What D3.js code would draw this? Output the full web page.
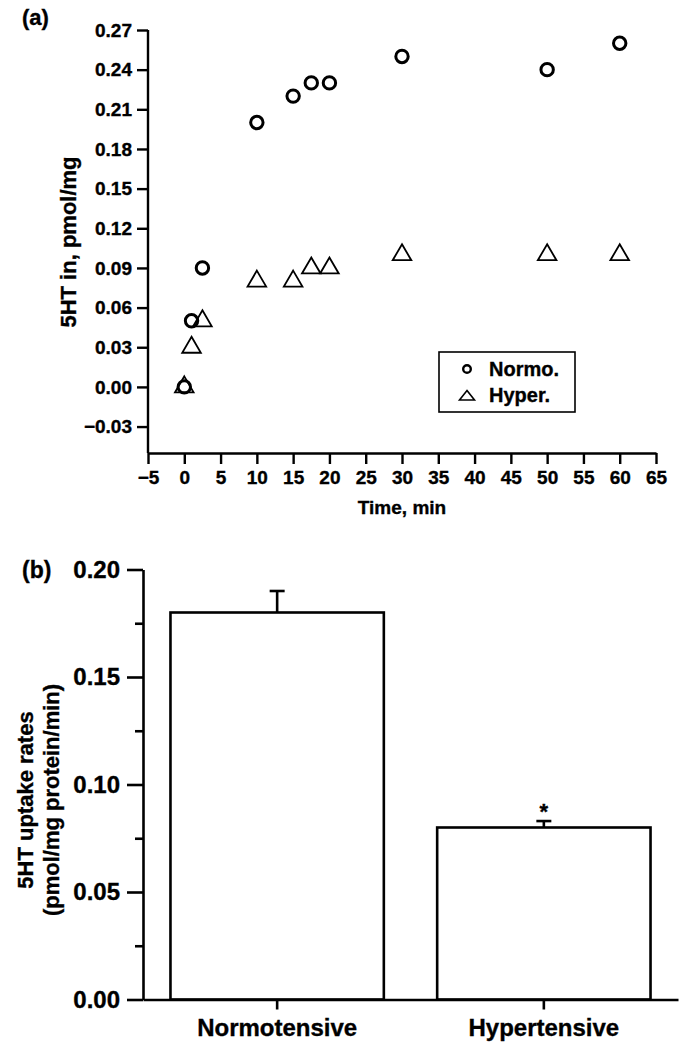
<!DOCTYPE html>
<html>
<head>
<meta charset="utf-8">
<script src="https://cdn.jsdelivr.net/npm/d3@7"></script>
<style>
  body { margin: 0; background: #fff; }
  svg text { font-family: "Liberation Sans", Arial, Helvetica, sans-serif; font-weight: bold; fill: #000; stroke: #000; stroke-width: 0.35px; }
</style>
</head>
<body>
<svg id="fig" width="685" height="1050"></svg>
<script>
'use strict'

// panel (a) - time course
const times = [0, 1, 2.5, 10, 15, 17.5, 20, 30, 50, 60];
const normoVals = [0, 0.05, 0.09, 0.20, 0.22, 0.23, 0.23, 0.25, 0.24, 0.26];
const hyperVals = [0, 0.03, 0.05, 0.08, 0.08, 0.09, 0.09, 0.10, 0.10, 0.10];
const xTicksA = d3.range(-5, 66, 5);
const yTicksA = [-0.03, 0, 0.03, 0.06, 0.09, 0.12, 0.15, 0.18, 0.21, 0.24, 0.27];
const legendLabels = ['Normo.', 'Hyper.'];

// panel (b) - uptake rates
const groups = ['Normotensive', 'Hypertensive'];
const rates = [0.18, 0.08];
const rateErr = [0.01, 0.003];
const signif = ['', '*'];
const yTicksB = [0, 0.05, 0.10, 0.15, 0.20];
const yMinorB = [0.025, 0.075, 0.125, 0.175];

window.onload = function() {
  const svg = d3.select('#fig');

  // ---------------- (a)
  const xA = d3.scaleLinear().domain([-5, 65]).range([148, 656]),
        yA = d3.scaleLinear().domain([-0.05, 0.27]).range([453, 30]);

  const gA = svg.append('g');

  gA.append('g')
    .attr('transform', 'translate(0,453)')
    .call(d3.axisBottom(xA).tickValues(xTicksA).tickSize(11).tickSizeOuter(0).tickPadding(7)
      .tickFormat(d3.format('d')))
    .call(g => g.selectAll('text').style('font-size', '19px'));

  const yAxA = gA.append('g')
    .attr('transform', 'translate(148,0)')
    .call(d3.axisLeft(yA).tickValues(yTicksA).tickSize(11).tickSizeOuter(0).tickPadding(5)
      .tickFormat(d3.format('.2f')))
    .call(g => g.selectAll('text').style('font-size', '19px'));

  gA.selectAll('.domain').attr('stroke-width', 2.4);
  gA.selectAll('.tick line').attr('stroke-width', 2.4);
  // y axis line only runs from the top tick down
  yAxA.select('.domain').attr('d', 'M0,' + yA(0.27) + 'V' + yA(-0.05));

  gA.append('text')
    .attr('x', 402).attr('y', 514)
    .attr('text-anchor', 'middle')
    .style('font-size', '19px')
    .text('Time, min');

  gA.append('text')
    .attr('transform', 'translate(76,242) rotate(-90)')
    .attr('text-anchor', 'middle')
    .style('font-size', '22px')
    .text('5HT in, pmol/mg');

  gA.append('text')
    .attr('x', 22).attr('y', 25)
    .style('font-size', '22px')
    .text('(a)');

  const tri = function(hw, up, down) {
    return 'M0,' + (-up) + 'L' + hw + ',' + down + 'L' + (-hw) + ',' + down + 'Z';
  }

  gA.append('g').selectAll('path')
    .data(times.map((t, i) => [t, hyperVals[i]]))
    .enter().append('path')
    .attr('transform', d => 'translate(' + xA(d[0]) + ',' + yA(d[1]) + ')')
    .attr('d', tri(9.3, 10.5, 5.5))
    .attr('fill', 'none')
    .attr('stroke', '#000')
    .attr('stroke-width', 1.8);

  gA.append('g').selectAll('circle')
    .data(times.map((t, i) => [t, normoVals[i]]))
    .enter().append('circle')
    .attr('cx', d => xA(d[0]))
    .attr('cy', d => yA(d[1]))
    .attr('r', 6.2)
    .attr('fill', 'none')
    .attr('stroke', '#000')
    .attr('stroke-width', 3);

  // legend
  const leg = gA.append('g');
  leg.append('rect')
    .attr('x', 439).attr('y', 352).attr('width', 136).attr('height', 60)
    .attr('fill', '#fff').attr('stroke', '#000').attr('stroke-width', 1.6);
  leg.append('circle')
    .attr('cx', 467).attr('cy', 369).attr('r', 3.8)
    .attr('fill', 'none').attr('stroke', '#000').attr('stroke-width', 2.4);
  leg.append('path')
    .attr('transform', 'translate(467,396)')
    .attr('d', tri(7.5, 5.5, 4))
    .attr('fill', 'none').attr('stroke', '#000').attr('stroke-width', 1.6);
  leg.selectAll('text.lab')
    .data(legendLabels)
    .enter().append('text')
    .attr('class', 'lab')
    .attr('x', 489)
    .attr('y', (d, i) => 369 + i * 26)
    .attr('dy', '0.36em')
    .style('font-size', '20px')
    .text(d => d);

  // ---------------- (b)
  const xB = d3.scaleBand().domain(groups).range([143, 678]).paddingInner(0.2).paddingOuter(0.103),
        yB = d3.scaleLinear().domain([0, 0.20]).range([999.5, 569.5]);

  const gB = svg.append('g');

  // bars
  gB.append('g').selectAll('rect')
    .data(groups)
    .enter().append('rect')
    .attr('x', d => xB(d))
    .attr('y', (d, i) => yB(rates[i]))
    .attr('width', xB.bandwidth())
    .attr('height', (d, i) => yB(0) - yB(rates[i]))
    .attr('fill', '#fff')
    .attr('stroke', '#000')
    .attr('stroke-width', 2.6);

  // error bars (upper only) + significance mark
  const eb = gB.append('g').selectAll('g')
    .data(groups)
    .enter().append('g')
    .attr('transform', d => 'translate(' + (xB(d) + xB.bandwidth() / 2) + ',0)');
  eb.append('line')
    .attr('y1', (d, i) => yB(rates[i]))
    .attr('y2', (d, i) => yB(rates[i] + rateErr[i]))
    .attr('stroke', '#000').attr('stroke-width', 2.6);
  eb.append('line')
    .attr('x1', -7.5).attr('x2', 7.5)
    .attr('y1', (d, i) => yB(rates[i] + rateErr[i]))
    .attr('y2', (d, i) => yB(rates[i] + rateErr[i]))
    .attr('stroke', '#000').attr('stroke-width', 2.6);
  eb.append('text')
    .attr('text-anchor', 'middle')
    .attr('y', (d, i) => yB(rates[i] + rateErr[i]) - 2)
    .style('font-size', '22px')
    .text((d, i) => signif[i]);

  // axes
  gB.append('g')
    .attr('transform', 'translate(143,0)')
    .call(d3.axisLeft(yB).tickValues(yMinorB).tickSize(8).tickSizeOuter(0).tickFormat(''))
    .call(g => g.select('.domain').remove());

  gB.append('g')
    .attr('transform', 'translate(143,0)')
    .call(d3.axisLeft(yB).tickValues(yTicksB).tickSize(16).tickSizeOuter(0).tickPadding(7)
      .tickFormat(d3.format('.2f')))
    .call(g => g.selectAll('text').style('font-size', '24px'));

  gB.append('g')
    .attr('transform', 'translate(0,999.5)')
    .call(d3.axisBottom(xB).tickSize(10).tickSizeOuter(0).tickPadding(9))
    .call(g => g.selectAll('text').style('font-size', '24px'));

  gB.selectAll('.domain').attr('stroke-width', 2.6);
  gB.selectAll('.tick line').attr('stroke-width', 2.6);

  const yLab = gB.append('text')
    .attr('transform', 'translate(33,800) rotate(-90)')
    .attr('text-anchor', 'middle')
    .style('font-size', '22px');
  yLab.append('tspan').attr('x', 0).attr('dy', 0).text('5HT uptake rates');
  yLab.append('tspan').attr('x', 0).attr('dy', 26).text('(pmol/mg protein/min)');

  gB.append('text')
    .attr('x', 22).attr('y', 578)
    .style('font-size', '23px')
    .text('(b)');
}
</script>
</body>
</html>
